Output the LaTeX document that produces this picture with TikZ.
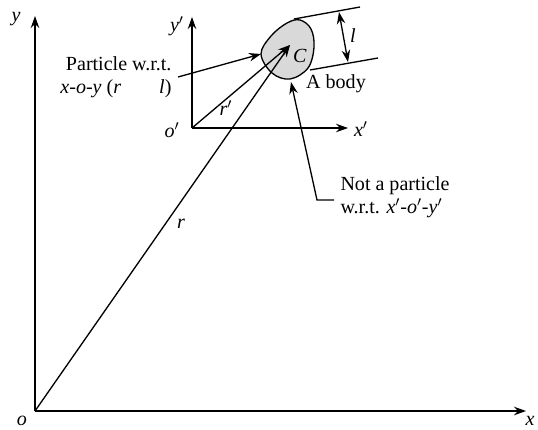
\documentclass[tikz,border=0pt]{standalone}
\usepackage{fontspec}
\setmainfont{Liberation Serif}
\usetikzlibrary{arrows.meta}

\begin{document}
\begin{tikzpicture}[x=0.2mm,y=-0.2mm,>={Stealth[length=2.4mm,width=1.7mm]},line width=0.75pt,font=\fontsize{11.4}{13}\selectfont]
\useasboundingbox (0,0) rectangle (538,429);
% frame x-o-y
\coordinate (o) at (35,411);
\coordinate (ytip) at (35,16);
\coordinate (xtip) at (526,411);
\draw[->] (o) -- (ytip);
\draw[->] (o) -- (xtip);
\node (lo) at (22,421) {\textit{o}};
\node (lx) at (530,421) {\textit{x}};
\node (ly) at (16,19) {\textit{y}};
% frame x'-o'-y'
\coordinate (op) at (192,128);
\coordinate (yptip) at (192,17);
\coordinate (xptip) at (348,128);
\draw[->] (op) -- (yptip);
\draw[->] (op) -- (xptip);
\node (lop) at (172,130) {\textit{o}$'$};
\node (lxp) at (361,129) {\textit{x}$'$};
\node (lyp) at (177,26) {\textit{y}$'$};
% the body
\draw[fill=gray!30] plot[smooth cycle,tension=0.6] coordinates {(261,54) (271,36) (287,23) (300,20) (311,29) (314,47) (308,68) (290,79) (272,73)};
\coordinate (C) at (290,45);
\node (lC) at (300,56) {\textit{C}};
\draw[->] (o) -- (C);
\draw[->] (op) -- (C);
\node (lr) at (181,224) {\textit{r}};
\node (lrp) at (226,108) {\textit{r}$'$};
% size l
\coordinate (u1) at (294,19);
\coordinate (u2) at (360,7);
\coordinate (b1) at (310,70);
\coordinate (b2) at (378,58);
\draw (u1) -- (u2);
\draw (b1) -- (b2);
\coordinate (lt) at (339,12);
\coordinate (lb) at (348,62);
\draw[<->] (lt) -- (lb);
\node (ll) at (353,36) {\textit{l}};
\node (body) at (336,84) {A body};
% labels with pointers
\node[anchor=east,align=right] (pw) at (178,77) {Particle w.r.t.\\\textit{x}-\textit{o}-\textit{y} (\textit{r}\hspace{1.9em}\textit{l})};
\coordinate (pwtip) at (261,54);
\draw[->] (pw.east) -- (pwtip);
\node[anchor=west,align=left] (np) at (334,197) {Not a particle\\w.r.t. \textit{x}$'$-\textit{o}$'$-\textit{y}$'$};
\coordinate (nb) at (317,200);
\coordinate (nptip) at (291,82);
\draw[->] (np.west |- nb) -- (nb) -- (nptip);
\end{tikzpicture}
\end{document}
